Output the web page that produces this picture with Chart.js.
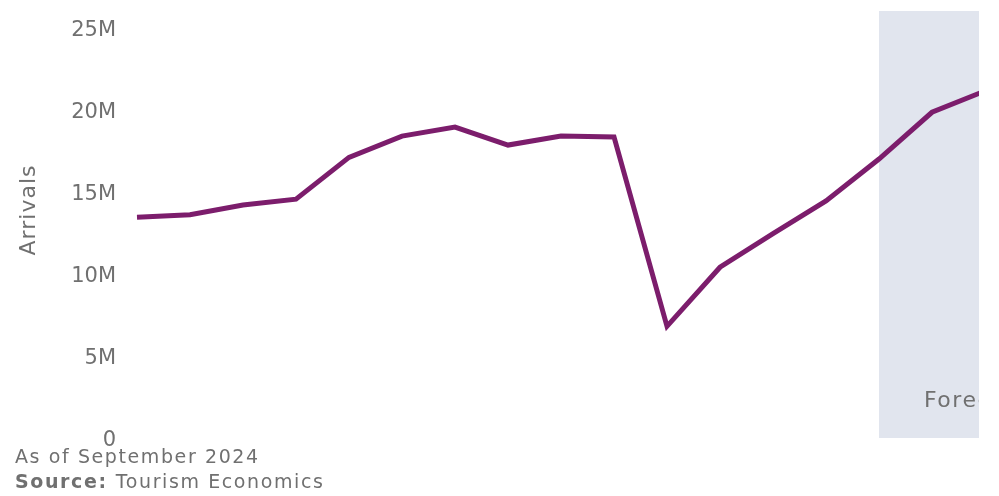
<!DOCTYPE html>
<html>
<head>
<meta charset="utf-8">
<script src="https://cdn.jsdelivr.net/npm/chart.js@4"></script>
<style>
    html, body { margin: 0; padding: 0; background: #fff; }
    #wrap { position: relative; width: 999px; height: 496px; }
</style>
</head>
<body>
<div id="wrap"><canvas id="arrivalsChart" width="999" height="496"></canvas></div>
<script>
// Data
const years = [2010, 2011, 2012, 2013, 2014, 2015, 2016, 2017, 2018, 2019, 2020, 2021, 2022, 2023, 2024, 2025, 2026];
const arrivals = [13.4, 13.55, 14.15, 14.5, 17.05, 18.35, 18.9, 17.8, 18.35, 18.3, 6.75, 10.35, 12.4, 14.4, 16.95, 19.8, 21.1];
const yTicks = [0, 5, 10, 15, 20, 25];
const forecastStart = 2024;
const notes = ['As of September 2024', 'Tourism Economics'];

const FONT = "'DejaVu Sans', sans-serif";
const GREY = '#707070';

// Shading, axis title and footnotes
const decor = {
    id: 'decor',
    beforeDatasetsDraw(chart) {
        const { ctx, chartArea, scales } = chart;
        const x0 = scales.x.getPixelForValue(forecastStart);
        const yBottom = scales.y.getPixelForValue(0) + 1;
        ctx.save();
        ctx.fillStyle = '#e1e5ee';
        ctx.fillRect(x0, chartArea.top - 16, chartArea.right - x0, yBottom - chartArea.top + 16);

        // "Forecast" label, clipped at the edge of the plot
        ctx.beginPath();
        ctx.rect(x0, 0, chartArea.right - x0, chart.height);
        ctx.clip();
        ctx.fillStyle = GREY;
        ctx.font = `22px ${FONT}`;
        ctx.letterSpacing = '1.5px';
        ctx.textBaseline = 'alphabetic';
        ctx.fillText('Forecast', x0 + 45, 407);
        ctx.restore();
    },
    afterDraw(chart) {
        const { ctx } = chart;
        ctx.save();
        ctx.fillStyle = GREY;
        ctx.font = `22px ${FONT}`;
        ctx.letterSpacing = '1px';
        ctx.translate(35, 210);
        ctx.rotate(-Math.PI / 2);
        ctx.textAlign = 'center';
        ctx.fillText('Arrivals', 0, 0);
        ctx.restore();

        ctx.save();
        ctx.fillStyle = GREY;
        ctx.letterSpacing = '1.6px';
        ctx.font = `19px ${FONT}`;
        ctx.fillText(notes[0], 15, 463);
        ctx.font = `bold 19px ${FONT}`;
        ctx.fillText('Source:', 15, 488);
        const w = ctx.measureText('Source: ').width;
        ctx.font = `19px ${FONT}`;
        ctx.fillText(notes[1], 15 + w, 488);
        ctx.restore();
    }
};

new Chart(document.getElementById('arrivalsChart'), {
    type: 'line',
    data: {
        datasets: [{
            data: years.map((y, i) => ({ x: y, y: arrivals[i] * 1e6 })),
            borderColor: '#7c1d6c',
            borderWidth: 5,
            pointRadius: 0,
            tension: 0,
            borderJoinStyle: 'miter',
            clip: { left: 5, right: 0, top: 20, bottom: 10 }
        }]
    },
    options: {
        responsive: false,
        animation: false,
        layout: { padding: { top: 27, right: 20, bottom: 59, left: 0 } },
        plugins: { legend: { display: false }, tooltip: { enabled: false } },
        scales: {
            x: {
                type: 'linear',
                display: false,
                min: years[0],
                max: years[0] + (979 - 137) / 53
            },
            y: {
                min: 0,
                max: 25e6,
                afterFit(scale) {
                    scale.width = 137;
                    scale.paddingTop = 0;
                    scale.paddingBottom = 0;
                },
                afterBuildTicks(scale) { scale.ticks = yTicks.map(v => ({ value: v * 1e6 })); },
                grid: { display: false, drawTicks: false },
                border: { display: false },
                ticks: {
                    padding: 21,
                    labelOffset: 4,
                    color: GREY,
                    font: { family: FONT, size: 21 },
                    callback: v => v === 0 ? '0' : (v / 1e6) + 'M'
                }
            }
        }
    },
    plugins: [decor]
});
</script>
</body>
</html>
